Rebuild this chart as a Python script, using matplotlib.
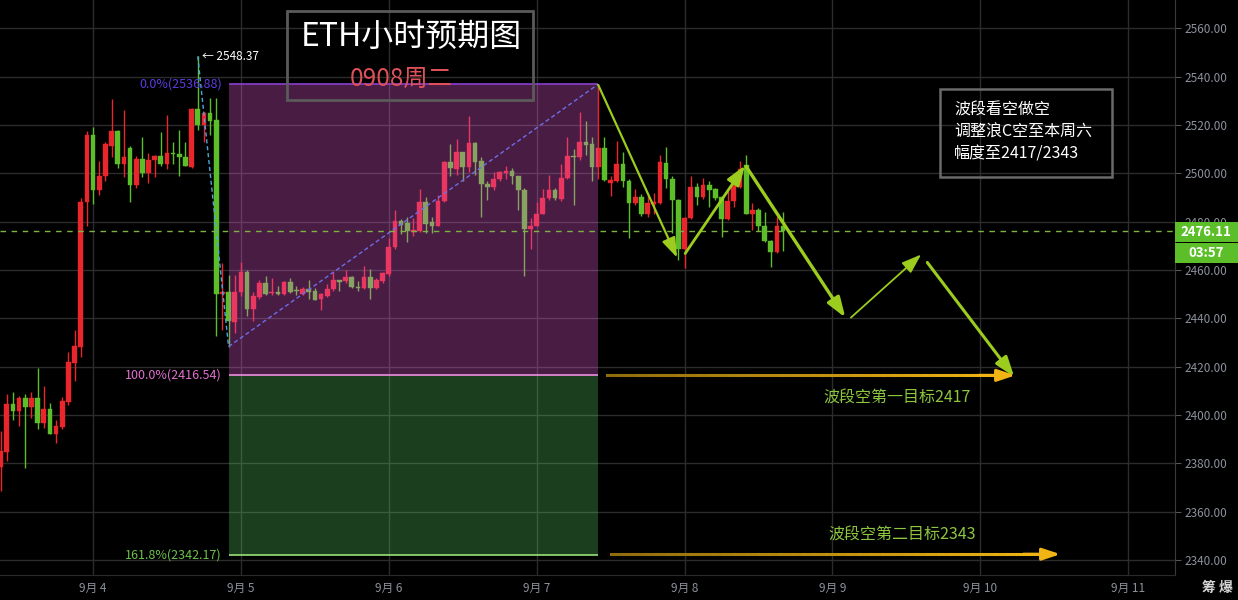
import numpy as np
import matplotlib
matplotlib.use('Agg')
import matplotlib.pyplot as plt
from matplotlib.patches import Rectangle
from matplotlib.collections import LineCollection

plt.rcParams['font.family'] = ['Noto Sans CJK SC', 'DejaVu Sans']

# ---------------- data ----------------
start_hour = -15  # first candle, hours relative to 9月4 00:00
opens = [2378.6, 2384.8, 2404.7, 2401.8, 2407.0, 2403.4, 2407.0, 2396.8, 2402.6, 2392.2,
         2395.1, 2405.5, 2421.6, 2428.3, 2488.0, 2516.0, 2493.0, 2498.7, 2511.5, 2517.3,
         2503.7, 2510.3, 2495.0, 2506.0, 2500.3, 2505.7, 2507.0, 2503.7, 2508.3, 2507.8,
         2506.6, 2502.8, 2526.4, 2519.8, 2525.0, 2522.0, 2450.2, 2451.0, 2438.6, 2451.0,
         2459.0, 2444.0, 2449.0, 2454.8, 2450.5, 2451.0, 2450.0, 2455.0, 2451.6, 2450.2,
         2452.3, 2451.5, 2448.0, 2449.4, 2452.0, 2456.0, 2455.3, 2457.3, 2453.0, 2452.5,
         2457.3, 2452.5, 2455.6, 2458.5, 2469.4, 2480.2, 2479.3, 2475.6, 2476.0, 2488.0,
         2479.8, 2478.4, 2488.5, 2504.6, 2501.9, 2508.8, 2502.8, 2512.5, 2505.0, 2495.7,
         2494.3, 2497.5, 2500.2, 2501.0, 2499.0, 2493.2, 2477.0, 2478.0, 2483.2, 2489.7,
         2493.2, 2489.2, 2498.0, 2507.2, 2506.7, 2513.0, 2512.0, 2502.5, 2510.6, 2496.0,
         2496.8, 2503.7, 2497.0, 2487.6, 2490.0, 2483.2, 2487.4, 2487.6, 2504.2, 2497.7,
         2489.0, 2468.7, 2481.6, 2494.5, 2490.4, 2495.0, 2493.6, 2490.4, 2481.2, 2488.5,
         2494.5, 2503.3, 2483.0, 2485.0, 2478.0, 2471.9, 2467.3, 2478.4]
highs = [2393.2, 2408.8, 2409.6, 2408.0, 2408.8, 2409.6, 2419.6, 2412.0, 2405.0, 2398.0,
         2407.5, 2426.0, 2435.0, 2489.6, 2517.7, 2519.0, 2505.0, 2513.0, 2530.6, 2518.0,
         2526.0, 2511.5, 2507.0, 2515.0, 2508.6, 2507.5, 2517.0, 2524.0, 2513.0, 2518.0,
         2513.0, 2527.0, 2548.37, 2525.5, 2531.0, 2531.0, 2463.0, 2458.0, 2458.0, 2463.5,
         2460.0, 2451.0, 2456.0, 2457.5, 2456.5, 2453.5, 2455.5, 2456.5, 2453.5, 2453.0,
         2456.0, 2452.5, 2450.5, 2454.0, 2459.0, 2456.0, 2460.0, 2457.5, 2455.5, 2461.8,
         2460.6, 2456.5, 2459.0, 2473.4, 2485.0, 2481.0, 2481.8, 2481.5, 2493.3, 2490.0,
         2482.0, 2491.0, 2505.0, 2512.0, 2514.0, 2509.0, 2523.5, 2513.0, 2506.7, 2497.0,
         2500.5, 2501.0, 2503.0, 2502.0, 2499.0, 2494.0, 2481.5, 2488.0, 2493.5, 2499.5,
         2494.0, 2504.0, 2515.0, 2510.0, 2525.3, 2521.6, 2515.0, 2536.88, 2515.0, 2498.7,
         2513.3, 2508.8, 2497.5, 2493.5, 2491.5, 2491.5, 2492.0, 2507.4, 2510.8, 2498.7,
         2489.5, 2482.0, 2498.7, 2496.0, 2498.0, 2497.0, 2494.0, 2490.5, 2492.5, 2495.5,
         2505.0, 2507.4, 2487.6, 2485.5, 2484.0, 2472.5, 2482.0, 2484.0]
lows = [2368.6, 2381.0, 2398.0, 2395.5, 2378.0, 2398.9, 2394.0, 2394.7, 2392.0, 2388.5,
        2394.0, 2404.0, 2414.0, 2424.0, 2478.0, 2487.5, 2491.0, 2497.0, 2506.6, 2502.0,
        2498.3, 2488.0, 2494.0, 2498.3, 2495.8, 2498.5, 2503.0, 2501.6, 2503.7, 2498.7,
        2503.0, 2502.0, 2518.0, 2512.8, 2516.0, 2432.8, 2435.0, 2428.3, 2434.0, 2449.4,
        2441.0, 2439.0, 2448.0, 2449.5, 2449.6, 2449.5, 2449.6, 2450.5, 2449.5, 2449.5,
        2448.0, 2447.5, 2443.6, 2449.0, 2451.5, 2451.5, 2454.5, 2452.5, 2451.5, 2452.0,
        2448.0, 2452.0, 2454.5, 2457.7, 2468.8, 2475.0, 2471.5, 2474.0, 2475.6, 2475.5,
        2475.5, 2478.0, 2488.0, 2498.7, 2499.5, 2497.0, 2500.5, 2499.5, 2482.0, 2489.0,
        2493.0, 2497.0, 2497.5, 2495.5, 2485.0, 2457.7, 2468.5, 2478.0, 2483.0, 2489.0,
        2489.0, 2488.7, 2497.7, 2486.7, 2505.6, 2507.4, 2497.0, 2497.5, 2497.0, 2490.8,
        2496.3, 2494.3, 2473.3, 2487.0, 2482.5, 2482.0, 2483.0, 2487.4, 2494.0, 2475.5,
        2464.0, 2461.0, 2481.2, 2487.0, 2489.5, 2486.0, 2489.0, 2473.5, 2480.5, 2486.0,
        2494.0, 2483.0, 2476.6, 2476.0, 2471.5, 2461.4, 2467.0, 2468.0]
closes = [2385.2, 2404.7, 2401.8, 2407.0, 2403.4, 2407.0, 2396.8, 2402.6, 2392.2, 2395.5,
          2405.9, 2422.0, 2428.7, 2488.3, 2516.0, 2493.0, 2499.0, 2512.0, 2517.3, 2504.0,
          2506.6, 2495.0, 2506.0, 2500.3, 2505.7, 2507.0, 2503.7, 2508.2, 2507.8, 2506.6,
          2503.2, 2526.4, 2519.8, 2525.0, 2521.5, 2450.2, 2451.0, 2439.0, 2451.0, 2459.0,
          2444.0, 2449.4, 2454.8, 2450.2, 2451.0, 2450.0, 2455.0, 2451.0, 2451.3, 2452.3,
          2451.0, 2447.7, 2450.0, 2452.3, 2456.0, 2455.2, 2457.3, 2453.0, 2452.5, 2457.3,
          2452.5, 2456.0, 2458.6, 2469.7, 2480.2, 2478.8, 2476.0, 2476.7, 2488.0, 2479.0,
          2478.4, 2488.7, 2504.6, 2502.0, 2508.8, 2502.8, 2512.5, 2504.6, 2495.7, 2494.3,
          2497.7, 2500.5, 2501.0, 2498.7, 2493.2, 2477.0, 2478.4, 2483.3, 2489.9, 2493.2,
          2489.7, 2498.2, 2507.0, 2506.8, 2513.0, 2511.7, 2502.5, 2510.6, 2497.3, 2497.3,
          2504.0, 2496.8, 2487.6, 2490.0, 2483.2, 2487.6, 2488.0, 2504.6, 2497.7, 2489.0,
          2468.7, 2481.6, 2494.5, 2490.4, 2495.0, 2493.2, 2489.9, 2481.2, 2488.7, 2495.0,
          2501.9, 2483.2, 2485.0, 2478.0, 2471.9, 2467.3, 2478.4, 2476.11]

day_labels = ['9月 4', '9月 5', '9月 6', '9月 7', '9月 8', '9月 9', '9月 10', '9月 11']
price_ticks = [2340, 2360, 2380, 2400, 2420, 2440, 2460, 2480, 2500, 2520, 2540, 2560]
last_price = 2476.11
countdown = '03:57'

swing_high = 2548.37
swing_low = 2428.3
fib_0 = 2536.88
fib_100 = 2416.54
fib_1618 = 2342.17
fib_start_hour = 22
fib_end_hour = 82
swing_high_hour = 17

# projected wave path (hour, price) drawn as arrows
wave_path = [(82, 2536.5), (94.8, 2465.1), (96.1, 2466.8), (105.8, 2503.2),
             (106.0, 2502.8), (122.1, 2440.3), (123.0, 2440.3), (134.4, 2466.4),
             (135.4, 2463.1), (149.5, 2415.8)]
wave_widths = [1.6, 2.0, 2.4, 1.3, 2.2]
target1, target2 = 2417, 2343
target1_span = (83.4, 149.7)
target2_span = (84.1, 157.0)

title = 'ETH小时预期图'
subtitle = '0908周二'
note_lines = ['波段看空做空', '调整浪C空至本周六', '幅度至2417/2343']
target1_text = '波段空第一目标2417'
target2_text = '波段空第二目标2343'

# ---------------- figure ----------------
W, H = 1238, 600
fig = plt.figure(figsize=(W / 100, H / 100), dpi=100, facecolor='black')
ax = fig.add_axes([0, 25 / H, 1175 / W, 575 / H], facecolor='black')

def fpx(x, y):
    return (x / W, 1 - y / H)

hours = start_hour + np.arange(len(opens))
o = np.array(opens); h_ = np.array(highs); l_ = np.array(lows); c = np.array(closes)
up = c >= o
UP, DOWN = '#e8262c', '#5cbf2a'
colors = np.where(up, UP, DOWN)

ax.vlines(hours, l_, h_, colors=colors, lw=1.0, zorder=2)
body_bottom = np.minimum(o, c)
body_h = np.maximum(np.abs(c - o), 0.45)
ax.bar(hours, body_h, bottom=body_bottom, width=0.76, color=colors, edgecolor=colors,
       lw=0.3, zorder=2.1)

ax.set_xlim(-15.1, 175.6)
ax.set_ylim(2333.8, 2571.7)

# grid
ax.set_axisbelow(True)
ax.set_xticks([24 * k for k in range(len(day_labels))])
ax.set_xticklabels(day_labels)
ax.set_yticks(price_ticks)
ax.set_yticklabels([f'{p:.2f}' for p in price_ticks])
ax.grid(True, color='#2c2c2c', lw=1.0, zorder=0)
ax.yaxis.tick_right()
ax.tick_params(axis='y', colors='#555555', labelcolor='#8c919c', length=4, pad=3, labelsize=8.5)
ax.tick_params(axis='x', length=0, pad=5, labelcolor='#8c919c', labelsize=8.5)
for s in ['top', 'left']:
    ax.spines[s].set_visible(False)
ax.spines['right'].set_color('#3a3a3a')
ax.spines['bottom'].set_color('#2a2a2a')

# fib boxes
ax.add_patch(Rectangle((fib_start_hour, fib_100), fib_end_hour - fib_start_hour, fib_0 - fib_100,
                       facecolor=(240 / 255, 95 / 255, 225 / 255), alpha=0.30, lw=0, zorder=3))
ax.add_patch(Rectangle((fib_start_hour, fib_1618), fib_end_hour - fib_start_hour, fib_100 - fib_1618,
                       facecolor=(90 / 255, 210 / 255, 100 / 255), alpha=0.30, lw=0, zorder=3))
ax.hlines(fib_0, fib_start_hour, fib_end_hour, color='#8a3fd0', lw=1.2, zorder=4)
ax.hlines(fib_100, fib_start_hour, fib_end_hour, color='#ee8fe0', lw=1.2, zorder=4)
ax.hlines(fib_1618, fib_start_hour, fib_end_hour, color='#9be07a', lw=1.2, zorder=4)
ax.text(fib_start_hour - 1.1, fib_0, f'0.0%({fib_0:.2f})', color='#5a3ce0', fontsize=9,
        ha='right', va='center', zorder=5)
ax.text(fib_start_hour - 1.1, fib_100, f'100.0%({fib_100:.2f})', color='#e070d0', fontsize=9,
        ha='right', va='center', zorder=5)
ax.text(fib_start_hour - 1.1, fib_1618, f'161.8%({fib_1618:.2f})', color='#6cc24a', fontsize=9,
        ha='right', va='center', zorder=5)
ax.plot([fib_start_hour, fib_end_hour], [swing_low, fib_0], color='#6d6ee8', lw=1.0,
        ls=(0, (3, 2)), zorder=4)
ax.plot([swing_high_hour, fib_start_hour], [swing_high, swing_low], color='#4aa6e0', lw=1.0,
        ls=(0, (3, 2)), zorder=4)
ax.text(swing_high_hour + 0.7, swing_high, f'← {swing_high:.2f}', color='white', fontsize=8.5,
        ha='left', va='center', zorder=5)

# last price dashed line
ax.axhline(last_price, color='#7cb342', lw=1.0, ls=(0, (4, 4)), zorder=4)

# wave arrows
GREEN = '#9ccc1e'
for k in range(0, len(wave_path), 2):
    p0, p1 = wave_path[k], wave_path[k + 1]
    ax.annotate('', xy=p1, xytext=p0, zorder=6,
                arrowprops=dict(arrowstyle='-|>,head_length=1.0,head_width=0.35',
                                color=GREEN, lw=wave_widths[k // 2], mutation_scale=12,
                                shrinkA=0, shrinkB=0))

# target arrows (gold lines that brighten toward the head)
GOLD = np.array([240, 181, 20]) / 255
for (x0, x1), y in [(target1_span, target1 - 0.6), (target2_span, target2 - 0.6)]:
    xs = np.linspace(x0, x1 - 1.5, 40)
    segs = [[(xs[j], y), (xs[j + 1], y)] for j in range(len(xs) - 1)]
    shade = np.linspace(0.6, 1.0, len(segs))
    cols = [tuple(GOLD * s) for s in shade]
    ax.add_collection(LineCollection(segs, colors=cols, lw=2.2, zorder=6,
                                     capstyle='projecting'))
    ax.annotate('', xy=(x1, y), xytext=(x1 - 6, y), zorder=6,
                arrowprops=dict(arrowstyle='-|>,head_length=0.9,head_width=0.3',
                                color=GOLD, lw=2.2, mutation_scale=12, shrinkA=0, shrinkB=0))
ax.text(130.5, 2407.0, target1_text, color='#8dc63f', fontsize=11.5, ha='center', va='center', zorder=6)
ax.text(131.3, 2350.4, target2_text, color='#8dc63f', fontsize=11.5, ha='center', va='center', zorder=6)

# title box
x0, y0 = fpx(287, 100)
fig.patches.append(Rectangle((x0, y0), (533 - 287) / W, 89 / H, transform=fig.transFigure,
                             fill=False, ec='#5a5a5a', lw=2, zorder=10))
fig.text(*fpx(411, 37), title, color='white', fontsize=23, ha='center', va='center', zorder=11)
fig.text(*fpx(401, 79), subtitle, color='#e0505a', fontsize=17.5, ha='center', va='center', zorder=11)

# note box
x0, y0 = fpx(940, 177)
fig.patches.append(Rectangle((x0, y0), (1112 - 940) / W, 88 / H, transform=fig.transFigure,
                             fill=False, ec='#6a6a6a', lw=1.8, zorder=10))
for yy, line in zip([110, 132, 154], note_lines):
    fig.text(*fpx(954, yy), line, color='white', fontsize=11.5, ha='left', va='center', zorder=11)

# price tags
x0, y0 = fpx(1175, 242)
fig.patches.append(Rectangle((x0, y0), 63 / W, 20 / H, transform=fig.transFigure,
                             facecolor='#5cbf2a', lw=0, zorder=10))
fig.text(*fpx(1206, 232), f'{last_price:.2f}', color='white', fontsize=9.5, fontweight='bold',
         ha='center', va='center', zorder=11)
x0, y0 = fpx(1175, 263)
fig.patches.append(Rectangle((x0, y0), 63 / W, 20 / H, transform=fig.transFigure,
                             facecolor='#5cbf2a', lw=0, zorder=10))
fig.text(*fpx(1206, 253), countdown, color='white', fontsize=9.5, fontweight='bold',
         ha='center', va='center', zorder=11)

fig.text(*fpx(1217, 588), '筹 爆', color='#d8d8d8', fontsize=10, fontweight='bold',
         ha='center', va='center')

fig.savefig('out.png', dpi=100, facecolor='black')
